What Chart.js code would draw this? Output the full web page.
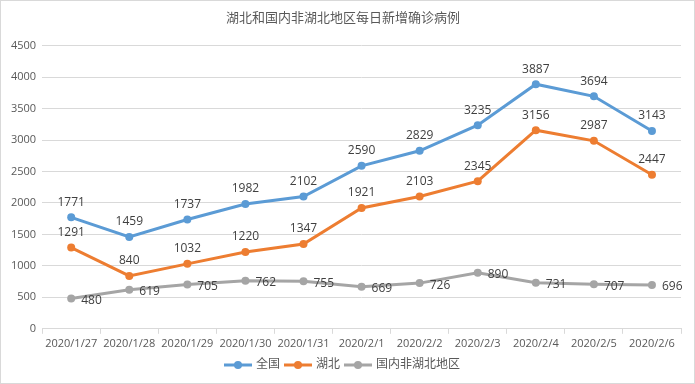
<!DOCTYPE html>
<html>
<head>
<meta charset="utf-8">
<script src="https://cdn.jsdelivr.net/npm/chart.js@4"></script>
<style>
  body { margin: 0; background: #fff; }
  #wrap { width: 695px; height: 384px; box-sizing: border-box; border: 1px solid #d9d9d9; }
</style>
</head>
<body>
<div id="wrap"><canvas id="c" width="693" height="382"></canvas></div>
<script>
const dates = ["2020/1/27", "2020/1/28", "2020/1/29", "2020/1/30", "2020/1/31", "2020/2/1", "2020/2/2", "2020/2/3", "2020/2/4", "2020/2/5", "2020/2/6"];
const national = [1771, 1459, 1737, 1982, 2102, 2590, 2829, 3235, 3887, 3694, 3143];
const hubei = [1291, 840, 1032, 1220, 1347, 1921, 2103, 2345, 3156, 2987, 2447];
const outsideHubei = [480, 619, 705, 762, 755, 669, 726, 890, 731, 707, 696];

const FONT = "'Open Sans', 'Noto Sans CJK SC', sans-serif";
const TEXT = '#595959';

// legend marker: short line with a dot
function marker(color) {
  const cv = document.createElement('canvas');
  cv.width = 28; cv.height = 10;
  const g = cv.getContext('2d');
  g.strokeStyle = color; g.lineWidth = 3;
  g.beginPath(); g.moveTo(0, 5); g.lineTo(28, 5); g.stroke();
  g.fillStyle = color;
  g.beginPath(); g.arc(14, 5, 4, 0, Math.PI * 2); g.fill();
  return cv;
}

// value labels; position per dataset
const valueLabels = {
  id: 'valueLabels',
  afterDatasetsDraw(chart) {
    const ctx = chart.ctx;
    ctx.save();
    ctx.font = '12px ' + FONT;
    ctx.fillStyle = '#404040';
    chart.data.datasets.forEach((ds, i) => {
      chart.getDatasetMeta(i).data.forEach((pt, j) => {
        const v = ds.data[j];
        if (ds.labelPos === 'right') {
          ctx.textAlign = 'left'; ctx.textBaseline = 'middle';
          ctx.fillText(v, pt.x + 10, pt.y + 2);
        } else {
          ctx.textAlign = 'center'; ctx.textBaseline = 'bottom';
          ctx.fillText(v, pt.x, pt.y - 9);
        }
      });
    });
    ctx.restore();
  }
};

const colors = ['#5B9BD5', '#ED7D31', '#A5A5A5'];

new Chart(document.getElementById('c'), {
  type: 'line',
  plugins: [valueLabels],
  data: {
    labels: dates,
    datasets: [
      { label: '全国', data: national, borderColor: colors[0], backgroundColor: colors[0], labelPos: 'top' },
      { label: '湖北', data: hubei, borderColor: colors[1], backgroundColor: colors[1], labelPos: 'top' },
      { label: '国内非湖北地区', data: outsideHubei, borderColor: colors[2], backgroundColor: colors[2], labelPos: 'right' }
    ]
  },
  options: {
    animation: false,
    responsive: false,
    elements: {
      line: { borderWidth: 3, tension: 0 },
      point: { radius: 4, borderWidth: 0, hoverRadius: 4 }
    },
    layout: { padding: { left: 4, right: 13, top: 0, bottom: 2 } },
    plugins: {
      title: {
        display: true,
        text: '湖北和国内非湖北地区每日新增确诊病例',
        color: TEXT,
        font: { family: FONT, size: 13, weight: 'normal' },
        padding: { top: 9, bottom: 20 }
      },
      legend: {
        position: 'bottom',
        labels: {
          color: TEXT,
          font: { family: FONT, size: 12 },
          usePointStyle: true,
          pointStyleWidth: 24,
          boxHeight: 10,
          padding: 6,
          generateLabels(chart) {
            return chart.data.datasets.map((ds, i) => ({
              text: ds.label,
              fillStyle: colors[i],
              strokeStyle: colors[i],
              pointStyle: marker(colors[i]),
              datasetIndex: i,
              fontColor: TEXT
            }));
          }
        }
      },
      tooltip: { enabled: false }
    },
    scales: {
      x: {
        offset: true,
        grid: { offset: true, drawOnChartArea: false, tickLength: 5, color: '#d9d9d9' },
        border: { color: '#d9d9d9' },
        ticks: { color: TEXT, font: { family: FONT, size: 11 }, maxRotation: 0, autoSkip: false, padding: 3 }
      },
      y: {
        min: 0,
        max: 4500,
        ticks: { stepSize: 500, color: TEXT, font: { family: FONT, size: 11 }, padding: 6, callback: v => String(v) },
        grid: { color: '#d9d9d9', tickLength: 0 },
        border: { display: false }
      }
    }
  }
});
</script>
</body>
</html>
